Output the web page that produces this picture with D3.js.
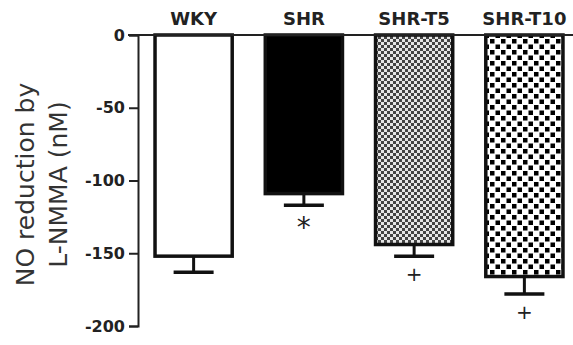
<!DOCTYPE html>
<html>
<head>
<meta charset="utf-8">
<script src="https://cdn.jsdelivr.net/npm/d3@7"></script>
<style>
  body { margin: 0; background: #fff; }
  text { font-family: "DejaVu Sans", sans-serif; }
</style>
</head>
<body>
<div id="chart"></div>
<script>
// values (nM)
var groups = ['WKY', 'SHR', 'SHR-T5', 'SHR-T10'];
var means = [-152, -109, -144, -166];
var sems = [11, 8, 8, 12];
var marks = ['', '*', '+', '+'];
var yTicks = [0, -50, -100, -150, -200];

var width = 573, height = 345;

var svg = d3.select('#chart').append('svg')
  .attr('width', width).attr('height', height);

var defs = svg.append('defs');

// fine grey checker for SHR-T5
var p5 = defs.append('pattern').attr('id', 'fine')
  .attr('patternUnits', 'userSpaceOnUse').attr('width', 6).attr('height', 6);
p5.append('rect').attr('width', 6).attr('height', 6).attr('fill', '#e6e6e6');
p5.append('rect').attr('width', 3).attr('height', 3).attr('fill', '#444');
p5.append('rect').attr('x', 3).attr('y', 3).attr('width', 3).attr('height', 3).attr('fill', '#444');

// coarse black checker for SHR-T10
var p10 = defs.append('pattern').attr('id', 'coarse')
  .attr('patternUnits', 'userSpaceOnUse').attr('width', 11).attr('height', 11);
p10.append('rect').attr('width', 11).attr('height', 11).attr('fill', '#fff');
p10.append('rect').attr('x', 0.5).attr('y', 0.5).attr('width', 4.5).attr('height', 4.5).attr('fill', '#000');
p10.append('rect').attr('x', 6).attr('y', 6).attr('width', 4.5).attr('height', 4.5).attr('fill', '#000');

var fills = ['#fff', '#000', 'url(#fine)', 'url(#coarse)'];

var x = d3.scaleBand().domain(groups).range([144, 574])
  .paddingInner(0.3).paddingOuter(0.1);
var y = d3.scaleLinear().domain([-200, 0]).range([326, 35]);

// bars
svg.selectAll('rect.bar')
  .data(groups)
  .enter().append('rect')
  .attr('class', 'bar')
  .attr('x', function(d) { return x(d); })
  .attr('y', y(0))
  .attr('width', x.bandwidth())
  .attr('height', function(d, i) { return y(means[i]) - y(0); })
  .attr('fill', function(d, i) { return fills[i]; })
  .attr('stroke', '#111')
  .attr('stroke-width', 3.5);

// error bars (downward only)
var err = svg.selectAll('g.err').data(groups).enter().append('g').attr('class', 'err');
err.append('line')
  .attr('x1', function(d) { return x(d) + x.bandwidth() / 2; })
  .attr('x2', function(d) { return x(d) + x.bandwidth() / 2; })
  .attr('y1', function(d, i) { return y(means[i]); })
  .attr('y2', function(d, i) { return y(means[i] - sems[i]); })
  .attr('stroke', '#111').attr('stroke-width', 3);
err.append('line')
  .attr('x1', function(d) { return x(d) + x.bandwidth() / 2 - 20; })
  .attr('x2', function(d) { return x(d) + x.bandwidth() / 2 + 20; })
  .attr('y1', function(d, i) { return y(means[i] - sems[i]); })
  .attr('y2', function(d, i) { return y(means[i] - sems[i]); })
  .attr('stroke', '#111').attr('stroke-width', 3.5);

// significance marks
svg.selectAll('text.mark').data(groups).enter().append('text')
  .attr('class', 'mark')
  .attr('x', function(d) { return x(d) + x.bandwidth() / 2; })
  .attr('y', function(d, i) { return y(means[i] - sems[i]) + (marks[i] == '*' ? 32 : 25); })
  .attr('text-anchor', 'middle')
  .attr('font-size', function(d, i) { return marks[i] == '*' ? 28 : 20; })
  .attr('font-family', 'Liberation Sans, sans-serif')
  .attr('fill', '#222')
  .text(function(d, i) { return marks[i]; });

// top line at zero
svg.append('line')
  .attr('x1', 128).attr('x2', width)
  .attr('y1', y(0)).attr('y2', y(0))
  .attr('stroke', '#222').attr('stroke-width', 1.8);

// y axis
var yAxis = d3.axisLeft(y).tickValues(yTicks).tickSize(9).tickPadding(4)
  .tickFormat(function(d) { return String(d); });
var gy = svg.append('g').attr('transform', 'translate(138,0)').call(yAxis);
gy.select('.domain').attr('stroke', '#222').attr('stroke-width', 2);
gy.selectAll('.tick line').attr('stroke', '#222').attr('stroke-width', 2);
gy.selectAll('.tick text')
  .attr('font-family', 'DejaVu Sans, sans-serif')
  .attr('font-size', 16).attr('font-weight', 'bold').attr('fill', '#222');

// category labels
svg.selectAll('text.cat').data(groups).enter().append('text')
  .attr('class', 'cat')
  .attr('x', function(d) { return x(d) + x.bandwidth() / 2; })
  .attr('y', 25)
  .attr('text-anchor', 'middle')
  .attr('font-size', 18).attr('font-weight', 'bold').attr('fill', '#222')
  .text(function(d) { return d; });

// y title
var title = svg.append('text')
  .attr('transform', 'translate(0,' + ((y(0) + y(-200)) / 2 + 4) + ') rotate(-90)')
  .attr('text-anchor', 'middle')
  .attr('font-family', 'Liberation Sans, sans-serif')
  .attr('font-size', 25).attr('fill', '#333');
title.append('tspan').attr('x', 0).attr('y', 34).text('NO reduction by');
title.append('tspan').attr('x', 0).attr('y', 67).text('L-NMMA (nM)');
</script>
</body>
</html>
